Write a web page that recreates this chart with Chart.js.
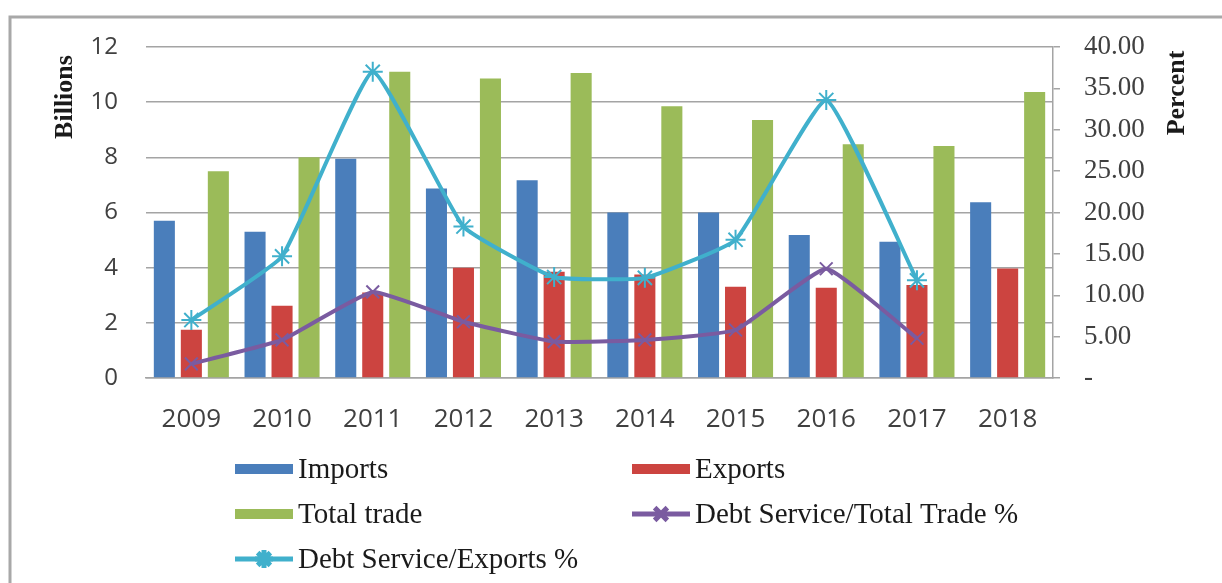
<!DOCTYPE html>
<html>
<head>
<meta charset="utf-8">
<script src="https://cdn.jsdelivr.net/npm/chart.js@4.4.1/dist/chart.umd.min.js"></script>
<style>
  html, body { margin: 0; padding: 0; background: #ffffff; }
  #wrap { width: 1222px; height: 583px; position: relative; }
</style>
</head>
<body>
<div id="wrap"><canvas id="c" width="1222" height="583"></canvas></div>
<script>
// Trade values (billions) and debt-service ratios (percent), 2009-2018
const categories = ['2009', '2010', '2011', '2012', '2013', '2014', '2015', '2016', '2017', '2018'];
const importsBn = [5.7, 5.3, 7.95, 6.87, 7.17, 6.0, 6.0, 5.18, 4.94, 6.37];
const exportsBn = [1.75, 2.62, 3.1, 4.0, 3.85, 3.75, 3.31, 3.27, 3.37, 3.97];
const totalTradeBn = [7.5, 8.0, 11.1, 10.86, 11.06, 9.85, 9.35, 8.47, 8.41, 10.37];
const debtToTradePct = [1.7, 4.6, 10.4, 6.8, 4.4, 4.6, 5.8, 13.2, 4.8, null];
const debtToExportsPct = [7.0, 14.7, 37.0, 18.3, 12.2, 12.1, 16.7, 33.6, 11.8, null];

const leftTicks = [0, 2, 4, 6, 8, 10, 12];
const rightTicks = [0, 5, 10, 15, 20, 25, 30, 35, 40];

const COLORS = {
  imports: '#4a7ebb',
  exports: '#cc4440',
  total: '#9bbb59',
  debtTrade: '#7a5ba0',
  debtExports: '#40b0cc',
  grid: '#a4a4a4',
  text: '#404040'
};

const PLOT = { left: 146, right: 1053, top: 47, bottom: 378 };

// Frame, rotated axis titles and the two-column legend
const decorations = {
  id: 'decorations',
  beforeDraw(chart) {
    const ctx = chart.ctx;
    ctx.save();
    ctx.fillStyle = '#ffffff';
    ctx.fillRect(0, 0, chart.width, chart.height);
    ctx.strokeStyle = '#a8a8a8';
    ctx.lineWidth = 3;
    ctx.beginPath();
    ctx.moveTo(10, chart.height);
    ctx.lineTo(10, 17);
    ctx.lineTo(chart.width, 17);
    ctx.stroke();
    ctx.restore();
  },
  afterDraw(chart) {
    const ctx = chart.ctx;
    ctx.save();
    // axis titles, both reading bottom-to-top
    ctx.fillStyle = '#1a1a1a';
    ctx.font = 'bold 26px "Liberation Serif", serif';
    ctx.textAlign = 'center';
    ctx.textBaseline = 'middle';
    [['Billions', 65, 97], ['Percent', 1177, 93]].forEach(([t, x, y]) => {
      ctx.save();
      ctx.translate(x, y);
      ctx.rotate(-Math.PI / 2);
      ctx.fillText(t, 0, 0);
      ctx.restore();
    });

    // legend
    const items = [
      { ds: 0, x: 235, y: 469 },
      { ds: 1, x: 632, y: 469 },
      { ds: 2, x: 235, y: 514 },
      { ds: 3, x: 632, y: 514 },
      { ds: 4, x: 235, y: 559 }
    ];
    ctx.font = '29px "Liberation Serif", serif';
    ctx.textAlign = 'left';
    ctx.textBaseline = 'middle';
    items.forEach(it => {
      const ds = chart.data.datasets[it.ds];
      const w = 58;
      if (ds.type === 'line') {
        ctx.strokeStyle = ds.borderColor;
        ctx.lineWidth = 5;
        ctx.beginPath();
        ctx.moveTo(it.x, it.y);
        ctx.lineTo(it.x + w, it.y);
        ctx.stroke();
        Chart.helpers.drawPoint(ctx, {
          pointStyle: ds.pointStyle, radius: 9, rotation: 0,
          borderWidth: 2
        }, it.x + w / 2, it.y);
      } else {
        ctx.fillStyle = ds.backgroundColor;
        ctx.fillRect(it.x, it.y - 5, w, 10);
      }
      ctx.fillStyle = '#1a1a1a';
      ctx.fillText(ds.label, it.x + w + 5, it.y + 1);
    });
    ctx.restore();
  }
};

const chart = new Chart(document.getElementById('c'), {
  type: 'bar',
  data: {
    labels: categories,
    datasets: [
      { label: 'Imports', data: importsBn, backgroundColor: COLORS.imports, yAxisID: 'y', order: 2,
        categoryPercentage: 0.893, barPercentage: 0.78 },
      { label: 'Exports', data: exportsBn, backgroundColor: COLORS.exports, yAxisID: 'y', order: 2,
        categoryPercentage: 0.893, barPercentage: 0.78 },
      { label: 'Total trade', data: totalTradeBn, backgroundColor: COLORS.total, yAxisID: 'y', order: 2,
        categoryPercentage: 0.893, barPercentage: 0.78 },
      { type: 'line', label: 'Debt Service/Total Trade %', data: debtToTradePct, yAxisID: 'y1', order: 1,
        borderColor: COLORS.debtTrade, backgroundColor: COLORS.debtTrade, borderWidth: 4,
        pointStyle: 'crossRot', pointRadius: 9, pointBorderWidth: 2, tension: 0.12, spanGaps: false },
      { type: 'line', label: 'Debt Service/Exports %', data: debtToExportsPct, yAxisID: 'y1', order: 0,
        borderColor: COLORS.debtExports, backgroundColor: COLORS.debtExports, borderWidth: 4,
        pointStyle: 'star', pointRadius: 10, pointBorderWidth: 2, tension: 0.12, spanGaps: false }
    ]
  },
  options: {
    responsive: false,
    animation: false,
    devicePixelRatio: 1,
    layout: { padding: { top: PLOT.top, left: 0, right: 0, bottom: 0 } },
    plugins: { legend: { display: false }, tooltip: { enabled: false } },
    scales: {
      x: {
        grid: { display: false },
        border: { display: true, color: COLORS.grid, width: 1.5 },
        ticks: { color: COLORS.text, font: { family: '"Open Sans", sans-serif', size: 26 }, padding: 18, maxRotation: 0 },
        afterFit(s) { s.height = 583 - PLOT.bottom; }
      },
      y: {
        position: 'left',
        min: 0, max: 12,
        afterBuildTicks(s) { s.ticks = leftTicks.map(v => ({ value: v })); },
        grid: { color: COLORS.grid, lineWidth: 1.5, drawTicks: false },
        border: { display: false },
        ticks: { color: COLORS.text, font: { family: '"Open Sans", sans-serif', size: 24 }, padding: 28 },
        afterFit(s) { s.width = PLOT.left; }
      },
      y1: {
        position: 'right',
        min: 0, max: 40,
        afterBuildTicks(s) { s.ticks = rightTicks.map(v => ({ value: v })); },
        grid: { drawOnChartArea: false, drawTicks: true, tickLength: 7, color: COLORS.grid, lineWidth: 1.5 },
        border: { display: true, color: COLORS.grid, width: 1.5 },
        ticks: {
          color: COLORS.text, font: { family: '"Liberation Serif", serif', size: 27 }, padding: 24,
          callback: v => (v === 0 ? '-' : v.toFixed(2))
        },
        afterFit(s) { s.width = 1222 - PLOT.right; }
      }
    }
  },
  plugins: [decorations]
});
</script>
</body>
</html>
